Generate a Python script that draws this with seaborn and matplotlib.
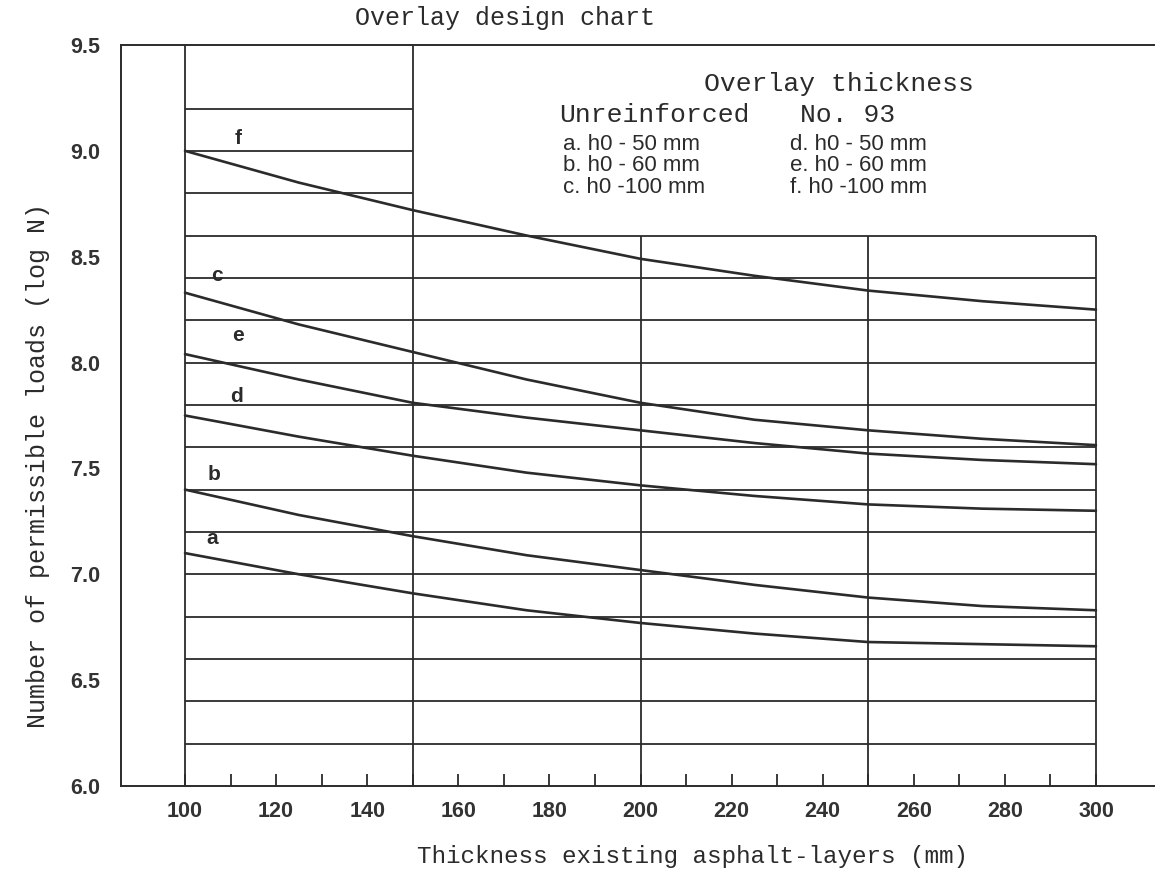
import numpy as np
import pandas as pd
import matplotlib
matplotlib.use("Agg")
import matplotlib.pyplot as plt
import seaborn as sns

# Thickness of existing asphalt layers (mm) at which each curve is read
thickness_mm = [100, 125, 150, 175, 200, 225, 250, 275, 300]

# log N of permissible loads, unreinforced overlays
curve_a = [7.10, 7.00, 6.91, 6.83, 6.77, 6.72, 6.68, 6.67, 6.66]
curve_b = [7.40, 7.28, 7.18, 7.09, 7.02, 6.95, 6.89, 6.85, 6.83]
curve_c = [8.33, 8.18, 8.05, 7.92, 7.81, 7.73, 7.68, 7.64, 7.61]
# log N of permissible loads, overlays with No. 93
curve_d = [7.75, 7.65, 7.56, 7.48, 7.42, 7.37, 7.33, 7.31, 7.30]
curve_e = [8.04, 7.92, 7.81, 7.74, 7.68, 7.62, 7.57, 7.54, 7.52]
curve_f = [9.00, 8.85, 8.72, 8.60, 8.49, 8.41, 8.34, 8.29, 8.25]

curve_names = ["a", "b", "c", "d", "e", "f"]
curve_values = [curve_a, curve_b, curve_c, curve_d, curve_e, curve_f]
# where the letter of each curve is written (thickness, log N)
label_pos_x = [106.0, 106.4, 107.0, 111.4, 111.6, 111.6]
label_pos_y = [7.17, 7.47, 8.41, 7.84, 8.13, 9.06]

x_ticks = [100, 120, 140, 160, 180, 200, 220, 240, 260, 280, 300]
x_tick_labels = ["100", "120", "140", "160", "180", "200", "220", "240", "260", "280", "300"]
y_ticks = [6.0, 6.5, 7.0, 7.5, 8.0, 8.5, 9.0, 9.5]
y_tick_labels = ["6.0", "6.5", "7.0", "7.5", "8.0", "8.5", "9.0", "9.5"]

legend_title = "Overlay thickness"
legend_left_head = "Unreinforced"
legend_right_head = "No. 93"
legend_left = ["a. h0 - 50 mm", "b. h0 - 60 mm", "c. h0 -100 mm"]
legend_right = ["d. h0 - 50 mm", "e. h0 - 60 mm", "f. h0 -100 mm"]

title = "Overlay design chart"
x_label = "Thickness existing asphalt-layers (mm)"
y_label = "Number of permissible loads (log N)"

# ---------------------------------------------------------------------------
sns.set_theme(style="white")
MONO = ["Liberation Mono", "DejaVu Sans Mono"]
SANS = ["Liberation Sans", "DejaVu Sans"]
plt.rcParams["font.family"] = SANS
INK = "#2b2b2b"

W, H = 1155, 884
fig = plt.figure(figsize=(W / 100, H / 100), dpi=100)
fig.patch.set_facecolor("white")

ax_left, ax_right, ax_top, ax_bottom = 121, 1155, 45, 786
ax = fig.add_axes([ax_left / W, 1 - ax_bottom / H,
                   (ax_right - ax_left) / W, (ax_bottom - ax_top) / H])
ax.set_facecolor("white")

px_per_mm = (1096 - 185) / 200.0
ax.set_xlim(100 - (185 - ax_left) / px_per_mm, 300 + (ax_right - 1096) / px_per_mm)
ax.set_ylim(6.0, 9.5)

# chart grid: full-width rows up to 8.6, narrow rows above it
lw_grid = 1.3
rows_wide = np.round(np.arange(6.2, 8.61, 0.2), 1)
rows_narrow = [8.8, 9.0, 9.2]
ax.hlines(rows_wide, 100, 300, color=INK, lw=lw_grid, zorder=1)
ax.hlines(rows_narrow, 100, 150, color=INK, lw=lw_grid, zorder=1)
ax.vlines([100, 150], 6.0, 9.5, color=INK, lw=lw_grid, zorder=1)
ax.vlines([200, 250, 300], 6.0, 8.6, color=INK, lw=lw_grid, zorder=1)

# design curves
df = pd.DataFrame({
    "thickness": np.tile(thickness_mm, len(curve_names)),
    "logN": np.concatenate(curve_values),
    "curve": np.repeat(curve_names, len(thickness_mm)),
})
sns.lineplot(data=df, x="thickness", y="logN", units="curve", estimator=None,
             color=INK, lw=1.9, ax=ax, legend=False, zorder=3)

for name, lx, ly in zip(curve_names, label_pos_x, label_pos_y):
    ax.text(lx, ly, name, family=SANS, fontsize=15, fontweight="bold",
            color=INK, ha="center", va="center", zorder=4)

# axes frame
for side in ["left", "top", "bottom"]:
    ax.spines[side].set_visible(True)
    ax.spines[side].set_color(INK)
    ax.spines[side].set_linewidth(1.4)
ax.spines["right"].set_visible(False)

ax.set_xticks(x_ticks)
ax.set_xticklabels(x_tick_labels)
ax.set_xticks(list(range(110, 300, 20)), minor=True)
ax.tick_params(axis="x", which="both", direction="in", length=8.5, width=1.3,
               color=INK, bottom=True, top=False, pad=11)
ax.set_yticks(y_ticks)
ax.set_yticklabels(y_tick_labels)
ax.tick_params(axis="y", which="both", length=0, left=True, pad=15)
for lab in ax.get_xticklabels() + ax.get_yticklabels():
    lab.set_family(SANS)
    lab.set_fontsize(15.5)
    lab.set_fontweight("bold")
    lab.set_color("#333333")
ax.set_xlabel("")
ax.set_ylabel("")


def fx(px):
    return px / W


def fy(py):
    return 1 - py / H


fig.text(fx(505), fy(18), title, family=MONO, fontsize=18, color=INK,
         ha="center", va="center")
fig.text(fx(692), fy(857), x_label, family=MONO, fontsize=17.5, color=INK,
         ha="center", va="center")
fig.text(fx(38), fy(465), y_label, family=MONO, fontsize=18, color=INK,
         ha="center", va="center", rotation=90)

# legend block
fig.text(fx(704), fy(84), legend_title, family=MONO, fontsize=19, color=INK,
         ha="left", va="center")
fig.text(fx(559), fy(115), legend_left_head, family=MONO, fontsize=19, color=INK,
         ha="left", va="center")
fig.text(fx(800), fy(115), legend_right_head, family=MONO, fontsize=19, color=INK,
         ha="left", va="center")
fig.text(fx(563), fy(134), "\n".join(legend_left), family=SANS, fontsize=16,
         color=INK, ha="left", va="top", linespacing=1.02)
fig.text(fx(790), fy(134), "\n".join(legend_right), family=SANS, fontsize=16,
         color=INK, ha="left", va="top", linespacing=1.02)

fig.savefig("out.png", dpi=100, facecolor="white")
